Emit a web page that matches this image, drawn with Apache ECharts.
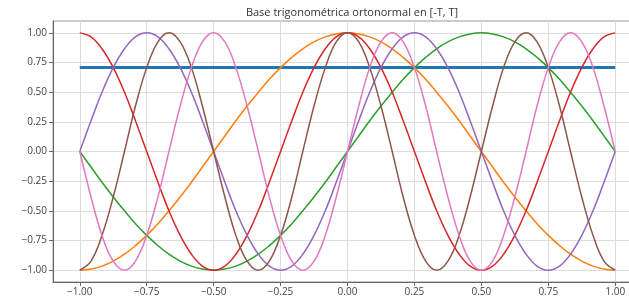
<!DOCTYPE html>
<html>
<head>
<meta charset="utf-8">
<script src="https://cdn.jsdelivr.net/npm/echarts@6/dist/echarts.min.js"></script>
<style>
  html, body { margin: 0; padding: 0; background: #fff; }
  #chart { width: 629px; height: 299px; }
</style>
</head>
<body>
<div id="chart"></div>
<script>
// sample points along [-T, T], T = 1
const xs = [-1, -0.958, -0.917, -0.875, -0.833, -0.792, -0.75, -0.708, -0.667, -0.625, -0.583, -0.542,
  -0.5, -0.458, -0.417, -0.375, -0.333, -0.292, -0.25, -0.208, -0.167, -0.125, -0.083, -0.042,
  0, 0.042, 0.083, 0.125, 0.167, 0.208, 0.25, 0.292, 0.333, 0.375, 0.417, 0.458,
  0.5, 0.542, 0.583, 0.625, 0.667, 0.708, 0.75, 0.792, 0.833, 0.875, 0.917, 0.958, 1];

const constX = [-1, 1];
const constY = [0.707, 0.707];

const cos1 = [-1, -0.991, -0.966, -0.924, -0.866, -0.793, -0.707, -0.609, -0.5, -0.383, -0.259, -0.131,
  0, 0.131, 0.259, 0.383, 0.5, 0.609, 0.707, 0.793, 0.866, 0.924, 0.966, 0.991,
  1, 0.991, 0.966, 0.924, 0.866, 0.793, 0.707, 0.609, 0.5, 0.383, 0.259, 0.131,
  0, -0.131, -0.259, -0.383, -0.5, -0.609, -0.707, -0.793, -0.866, -0.924, -0.966, -0.991, -1];
const sin1 = [0, -0.131, -0.259, -0.383, -0.5, -0.609, -0.707, -0.793, -0.866, -0.924, -0.966, -0.991,
  -1, -0.991, -0.966, -0.924, -0.866, -0.793, -0.707, -0.609, -0.5, -0.383, -0.259, -0.131,
  0, 0.131, 0.259, 0.383, 0.5, 0.609, 0.707, 0.793, 0.866, 0.924, 0.966, 0.991,
  1, 0.991, 0.966, 0.924, 0.866, 0.793, 0.707, 0.609, 0.5, 0.383, 0.259, 0.131, 0];
const cos2 = [1, 0.966, 0.866, 0.707, 0.5, 0.259, 0, -0.259, -0.5, -0.707, -0.866, -0.966,
  -1, -0.966, -0.866, -0.707, -0.5, -0.259, 0, 0.259, 0.5, 0.707, 0.866, 0.966,
  1, 0.966, 0.866, 0.707, 0.5, 0.259, 0, -0.259, -0.5, -0.707, -0.866, -0.966,
  -1, -0.966, -0.866, -0.707, -0.5, -0.259, 0, 0.259, 0.5, 0.707, 0.866, 0.966, 1];
const sin2 = [0, 0.259, 0.5, 0.707, 0.866, 0.966, 1, 0.966, 0.866, 0.707, 0.5, 0.259,
  0, -0.259, -0.5, -0.707, -0.866, -0.966, -1, -0.966, -0.866, -0.707, -0.5, -0.259,
  0, 0.259, 0.5, 0.707, 0.866, 0.966, 1, 0.966, 0.866, 0.707, 0.5, 0.259,
  0, -0.259, -0.5, -0.707, -0.866, -0.966, -1, -0.966, -0.866, -0.707, -0.5, -0.259, 0];
const cos3 = [-1, -0.924, -0.707, -0.383, 0, 0.383, 0.707, 0.924, 1, 0.924, 0.707, 0.383,
  0, -0.383, -0.707, -0.924, -1, -0.924, -0.707, -0.383, 0, 0.383, 0.707, 0.924,
  1, 0.924, 0.707, 0.383, 0, -0.383, -0.707, -0.924, -1, -0.924, -0.707, -0.383,
  0, 0.383, 0.707, 0.924, 1, 0.924, 0.707, 0.383, 0, -0.383, -0.707, -0.924, -1];
const sin3 = [0, -0.383, -0.707, -0.924, -1, -0.924, -0.707, -0.383, 0, 0.383, 0.707, 0.924,
  1, 0.924, 0.707, 0.383, 0, -0.383, -0.707, -0.924, -1, -0.924, -0.707, -0.383,
  0, 0.383, 0.707, 0.924, 1, 0.924, 0.707, 0.383, 0, -0.383, -0.707, -0.924,
  -1, -0.924, -0.707, -0.383, 0, 0.383, 0.707, 0.924, 1, 0.924, 0.707, 0.383, 0];

const xTicks = [-1, -0.75, -0.5, -0.25, 0, 0.25, 0.5, 0.75, 1];
const yTicks = [-1, -0.75, -0.5, -0.25, 0, 0.25, 0.5, 0.75, 1];

const curves = [cos1, sin1, cos2, sin2, cos3, sin3];
const colors = ['#ff7f0e', '#2ca02c', '#d62728', '#9467bd', '#8c564b', '#e377c2'];

const fmt = v => v.toFixed(2).replace('-', '\u2212');

function pairs(x, y) {
  return x.map((v, i) => [v, y[i]]);
}

const chart = echarts.init(document.getElementById('chart'), null, { renderer: 'canvas' });

const series = [{
  type: 'line',
  data: pairs(constX, constY),
  symbol: 'none',
  lineStyle: { color: '#1f77b4', width: 3 },
  z: 2
}];
curves.forEach((c, i) => {
  series.push({
    type: 'line',
    data: pairs(xs, c),
    symbol: 'none',
    smooth: 0.4,
    lineStyle: { color: colors[i], width: 1.5 },
    z: 3 + i
  });
});

const labelFont = { fontFamily: 'Open Sans', fontSize: 10, color: '#444' };

const option = {
  animation: false,
  title: {
    text: 'Base trigonométrica ortonormal en [-T, T]',
    left: 347, top: 2, textAlign: 'center',
    textStyle: { fontFamily: 'Open Sans', fontSize: 11, fontWeight: 'normal', color: '#333' }
  },
  grid: {
    left: 53, top: 21, width: 589, height: 261,
    outerBoundsMode: 'none',
    show: true, borderColor: '#999', borderWidth: 1
  },
  xAxis: {
    type: 'value', min: -1.1, max: 1.1,
    axisLine: { show: true, onZero: false, lineStyle: { color: '#666' } },
    axisTick: { show: true, length: 4, customValues: xTicks, lineStyle: { color: '#666' } },
    axisLabel: Object.assign({ customValues: xTicks, formatter: fmt, margin: 5 }, labelFont),
    splitLine: { show: true, lineStyle: { color: '#dddddd', width: 1 } }
  },
  yAxis: {
    type: 'value', min: -1.1, max: 1.1,
    axisLine: { show: true, onZero: false, lineStyle: { color: '#666' } },
    axisTick: { show: true, length: 4, customValues: yTicks, lineStyle: { color: '#666' } },
    axisLabel: Object.assign({ customValues: yTicks, formatter: fmt, margin: 6 }, labelFont),
    splitLine: { show: true, lineStyle: { color: '#dddddd', width: 1 } }
  },
  series: series
};

chart.setOption(option);
</script>
</body>
</html>
